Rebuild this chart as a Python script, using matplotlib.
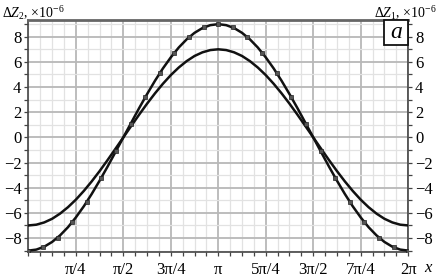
import numpy as np
import matplotlib
matplotlib.use('Agg')
import matplotlib.pyplot as plt
from matplotlib.ticker import MultipleLocator, FixedLocator
from matplotlib.patches import Rectangle

plt.rcParams['font.family'] = ['Liberation Serif', 'DejaVu Serif']
plt.rcParams['mathtext.fontset'] = 'custom'
plt.rcParams['mathtext.rm'] = 'Liberation Serif'
plt.rcParams['mathtext.it'] = 'Liberation Serif:italic'

# x in units of pi
x_line = [k / 24 for k in range(49)]
dz2_line = [-9.0, -8.92, -8.69, -8.31, -7.79, -7.14, -6.36, -5.48, -4.5, -3.44, -2.33, -1.17, 0.0,
            1.17, 2.33, 3.44, 4.5, 5.48, 6.36, 7.14, 7.79, 8.31, 8.69, 8.92, 9.0,
            8.92, 8.69, 8.31, 7.79, 7.14, 6.36, 5.48, 4.5, 3.44, 2.33, 1.17, 0.0,
            -1.17, -2.33, -3.44, -4.5, -5.48, -6.36, -7.14, -7.79, -8.31, -8.69, -8.92, -9.0]
dz1_line = [-7.0, -6.94, -6.76, -6.47, -6.06, -5.55, -4.95, -4.26, -3.5, -2.68, -1.81, -0.91, 0.0,
            0.91, 1.81, 2.68, 3.5, 4.26, 4.95, 5.55, 6.06, 6.47, 6.76, 6.94, 7.0,
            6.94, 6.76, 6.47, 6.06, 5.55, 4.95, 4.26, 3.5, 2.68, 1.81, 0.91, 0.0,
            -0.91, -1.81, -2.68, -3.5, -4.26, -4.95, -5.55, -6.06, -6.47, -6.76, -6.94, -7.0]

# measured points
x_pts = [k / 13 for k in range(27)]
dz2_pts = [-9.0, -8.74, -7.97, -6.74, -5.11, -3.19, -1.08, 1.08, 3.19, 5.11, 6.74, 7.97, 8.74, 9.0,
           8.74, 7.97, 6.74, 5.11, 3.19, 1.08, -1.08, -3.19, -5.11, -6.74, -7.97, -8.74, -9.0]

xtick_pos = [0.25, 0.5, 0.75, 1.0, 1.25, 1.5, 1.75, 2.0]
xtick_labels = ['π/4', 'π/2', '3π/4', 'π', '5π/4', '3π/2', '7π/4', '2π']
ytick_pos = [-8, -6, -4, -2, 0, 2, 4, 6, 8]

fig = plt.figure(figsize=(4.37, 2.79), dpi=100)
ax = fig.add_axes([0.065, 0.095, 0.869, 0.832])

xl = np.array(x_line) * np.pi
xp = np.array(x_pts) * np.pi
ax.plot(xl, dz2_line, color='#111111', lw=1.8, zorder=3)
ax.plot(xl, dz1_line, color='#111111', lw=1.8, zorder=3)
ax.plot(xp, dz2_pts, 's', ms=2.6, mfc='#555555', mec='#222222', mew=0.5, zorder=4)

ax.set_xlim(0, 2 * np.pi)
ax.set_ylim(-9.15, 9.3)

ax.xaxis.set_major_locator(FixedLocator([p * np.pi for p in xtick_pos]))
ax.set_xticklabels(xtick_labels)
ax.xaxis.set_minor_locator(MultipleLocator(np.pi / 16))
ax.yaxis.set_major_locator(FixedLocator(ytick_pos))
ax.set_yticklabels(['−' + str(-v) if v < 0 else str(v) for v in ytick_pos])
ax.yaxis.set_minor_locator(MultipleLocator(1))

ax.grid(which='major', color='#b8b8b8', lw=1.3, zorder=0)
ax.grid(which='minor', color='#e2e2e2', lw=0.9, zorder=0)
ax.set_axisbelow(True)

ax.tick_params(which='both', direction='out', length=3, width=0.9, color='#444444',
               labelsize=12, right=True, labelright=True, pad=2)
ax.tick_params(axis='x', which='major', length=3, pad=4)

for s in ['left', 'right', 'bottom']:
    ax.spines[s].set_color('#444444')
    ax.spines[s].set_linewidth(1.2)
ax.spines['top'].set_color('#666666')
ax.spines['top'].set_linewidth(2)

fig.text(0.005, 0.955, r'$\Delta Z_2$, $\times10^{-6}$', fontsize=10, ha='left', va='center')
fig.text(0.998, 0.955, r'$\Delta Z_1$, $\times10^{-6}$', fontsize=10, ha='right', va='center')
fig.text(0.98, 0.04, 'x', fontsize=12, style='italic', ha='center', va='center')

bw, bh = 0.063, 0.107
ax.add_patch(Rectangle((1 - bw, 1 - bh), bw, bh, transform=ax.transAxes,
                       fc='white', ec='#111111', lw=1.3, zorder=6, clip_on=False))
ax.text(1 - bw / 2, 1 - bh / 2, 'a', transform=ax.transAxes, fontsize=17, style='italic',
        ha='center', va='center', zorder=7)

fig.savefig('out.png', dpi=100)
